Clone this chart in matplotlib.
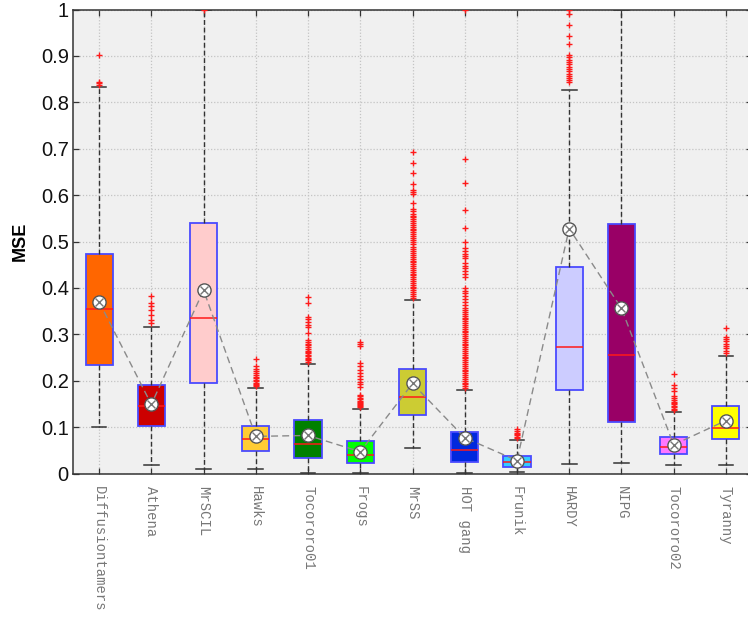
import matplotlib
matplotlib.use("Agg")
import matplotlib.pyplot as plt

teams = ["Diffusiontamers", "Athena", "MrSCIL", "Hawks", "Tocororo01", "Frogs",
         "MrSS", "HOT gang", "Frunik", "HARDY", "NIPG", "Tocororo02", "Tyranny"]

q1 = [0.234, 0.103, 0.194, 0.049, 0.034, 0.022, 0.127, 0.025, 0.015, 0.179, 0.110, 0.042, 0.074]
medians = [0.355, 0.145, 0.335, 0.074, 0.063, 0.039, 0.165, 0.051, 0.024, 0.272, 0.256, 0.057, 0.099]
q3 = [0.473, 0.191, 0.539, 0.102, 0.116, 0.069, 0.225, 0.089, 0.038, 0.444, 0.537, 0.078, 0.146]
whisker_lo = [0.100, 0.018, 0.010, 0.009, 0.001, 0.001, 0.054, 0.002, 0.003, 0.020, 0.023, 0.018, 0.019]
whisker_hi = [0.834, 0.316, 1.000, 0.184, 0.237, 0.140, 0.373, 0.180, 0.072, 0.827, 1.000, 0.133, 0.254]
means = [0.370, 0.149, 0.395, 0.080, 0.082, 0.047, 0.194, 0.077, 0.028, 0.528, 0.356, 0.062, 0.114]

outliers = [
    [0.903, 0.844, 0.841, 0.838],
    [0.383, 0.368, 0.362, 0.352, 0.341, 0.330, 0.324],
    [1.0],
    [0.247, 0.232, 0.226, 0.221, 0.217, 0.213, 0.209, 0.205, 0.202, 0.199, 0.196,
     0.193, 0.190, 0.188],
    [0.381, 0.367, 0.338, 0.333, 0.327, 0.321, 0.315, 0.302, 0.288, 0.284, 0.280,
     0.276, 0.272, 0.268, 0.265, 0.262, 0.259, 0.256, 0.253, 0.250, 0.247, 0.244, 0.241],
    [0.284, 0.279, 0.275, 0.238, 0.231, 0.224, 0.217, 0.210, 0.203, 0.198, 0.192,
     0.187, 0.169, 0.166, 0.163, 0.160, 0.157, 0.155, 0.152, 0.150, 0.147, 0.145, 0.143],
    [0.693, 0.670, 0.648, 0.625, 0.611, 0.606, 0.602, 0.584, 0.569, 0.565, 0.560,
     0.556, 0.552, 0.548, 0.544, 0.540, 0.536, 0.532, 0.528, 0.524, 0.520, 0.516,
     0.512, 0.508, 0.504, 0.500, 0.494, 0.488, 0.484, 0.479, 0.475, 0.471, 0.467,
     0.463, 0.459, 0.455, 0.451, 0.447, 0.443, 0.439, 0.435, 0.431, 0.427, 0.423,
     0.419, 0.415, 0.411, 0.407, 0.403, 0.399, 0.395, 0.391, 0.387, 0.383, 0.379],
    [1.0, 0.677, 0.627, 0.567, 0.529, 0.500, 0.486, 0.480, 0.474, 0.469, 0.464,
     0.454, 0.448, 0.442, 0.436, 0.430, 0.423, 0.400, 0.394, 0.388, 0.382, 0.376,
     0.370, 0.363, 0.357, 0.352, 0.348, 0.344, 0.340, 0.336, 0.332, 0.328, 0.324,
     0.320, 0.316, 0.312, 0.308, 0.304, 0.300, 0.296, 0.292, 0.288, 0.284, 0.280,
     0.276, 0.272, 0.268, 0.264, 0.260, 0.256, 0.252, 0.248, 0.244, 0.240, 0.236,
     0.232, 0.228, 0.224, 0.220, 0.216, 0.212, 0.208, 0.204, 0.200, 0.196, 0.192,
     0.188, 0.184],
    [0.095, 0.091, 0.088, 0.085, 0.082, 0.079, 0.076],
    [1.0, 0.990, 0.967, 0.943, 0.926, 0.902, 0.897, 0.892, 0.887, 0.882, 0.877,
     0.872, 0.867, 0.862, 0.857, 0.852, 0.847, 0.844],
    [],
    [0.214, 0.190, 0.184, 0.178, 0.166, 0.162, 0.158, 0.155, 0.152, 0.149, 0.146,
     0.143, 0.140, 0.137],
    [0.314, 0.295, 0.290, 0.285, 0.280, 0.275, 0.270, 0.265, 0.259],
]

box_colors = ["#ff6600", "#cc0000", "#ffcccc", "#ffcc33", "#008000", "#00ff00",
              "#cccc33", "#0028dd", "#33ccff", "#ccccff", "#990066", "#ff77ff", "#ffff00"]

y_ticks = [0, 0.1, 0.2, 0.3, 0.4, 0.5, 0.6, 0.7, 0.8, 0.9, 1]
y_tick_labels = ["0", "0.1", "0.2", "0.3", "0.4", "0.5", "0.6", "0.7", "0.8", "0.9", "1"]

plt.rcParams["font.family"] = ["Liberation Sans", "DejaVu Sans"]

fig = plt.figure(figsize=(7.48, 6.17), dpi=100)
ax = fig.add_axes([73 / 748, 143.5 / 617, 679 / 748, 464 / 617])
ax.set_facecolor("#f0f0f0")

positions = list(range(1, len(teams) + 1))
stats = []
for i, name in enumerate(teams):
    stats.append(dict(label=name, q1=q1[i], med=medians[i], q3=q3[i],
                      whislo=whisker_lo[i], whishi=whisker_hi[i],
                      mean=means[i], fliers=outliers[i]))

res = ax.bxp(stats, positions=positions, widths=0.52, capwidths=0.28,
             patch_artist=True, showmeans=False, showfliers=True,
             boxprops=dict(edgecolor="#4a4aff", linewidth=1.3),
             medianprops=dict(color="#ff1a1a", linewidth=1.1),
             whiskerprops=dict(color="#333333", linestyle=(0, (3.5, 2)), linewidth=1.0),
             capprops=dict(color="#333333", linewidth=1.1),
             flierprops=dict(marker="+", markeredgecolor="#ff1a1a", markersize=4,
                             markeredgewidth=1.0, linestyle="none"),
             zorder=3)
for patch, c in zip(res["boxes"], box_colors):
    patch.set_facecolor(c)

# mean trajectory and markers
ax.plot(positions, means, linestyle=(0, (5, 3)), color="#8a8a8a", linewidth=1.0, zorder=4)
ax.plot(positions, means, linestyle="none", marker="o", markersize=9.5,
        markerfacecolor="white", markeredgecolor="#555555", markeredgewidth=1.0, zorder=5)
ax.plot(positions, means, linestyle="none", marker="x", markersize=5.5,
        markeredgecolor="#777777", markeredgewidth=1.0, zorder=6)

ax.set_xlim(0.5, len(teams) + 0.5)
ax.set_ylim(0, 1)
ax.set_yticks(y_ticks)
ax.set_yticklabels(y_tick_labels, fontsize=14.5, color="#111111")
ax.set_xticks(positions)
ax.set_xticklabels(teams, rotation=-90, fontsize=10, color="#777777",
                   family=["Liberation Mono", "DejaVu Sans Mono"], va="top", ha="center")
ax.tick_params(axis="both", direction="in", length=4, width=0.9, color="#333333",
               top=True, right=True)
ax.tick_params(axis="x", pad=9)
ax.tick_params(axis="y", pad=3)

ax.grid(True, linestyle=(0, (1, 1.5)), color="#c4c4c4", linewidth=0.9, zorder=0)
ax.set_axisbelow(True)
for s in ax.spines.values():
    s.set_color("#333333")
    s.set_linewidth(1.1)

ax.set_ylabel("MSE", fontsize=13, fontweight="bold", labelpad=9)

fig.savefig("out.png", dpi=100, facecolor="white")
